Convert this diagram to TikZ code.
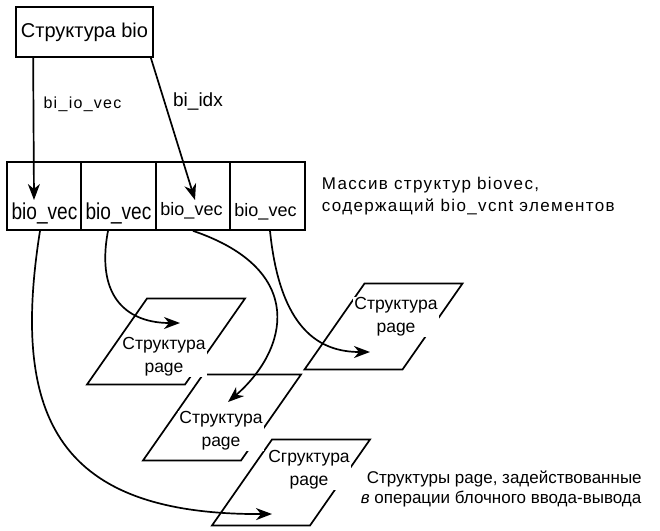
\documentclass[tikz,border=0pt]{standalone}
\usepackage{fontspec}
\setmainfont{Liberation Sans}
\newfontfamily\condfont[FakeStretch=0.83]{Liberation Sans}
\newfontfamily\spacedfont[LetterSpace=8]{Liberation Sans}
\usetikzlibrary{arrows.meta}
\begin{document}
\begin{tikzpicture}[x=1pt,y=-1pt,line width=1.7pt,
  arr/.style={-{Stealth[length=16pt,width=12pt,inset=5pt]}},
  box/.style={draw,rectangle,inner sep=0pt},
  cell/.style={draw,rectangle,minimum width=74.5pt,minimum height=68pt,inner sep=0pt},
  lbl/.style={inner sep=0pt},
  pglbl/.style={align=center,font=\fontsize{17.5}{23}\selectfont,fill=white,inner sep=1pt},
  pgram/.pic={\draw (-79,43) -- (19,43) -- (79,-43) -- (-19,-43) -- cycle;}
]
\useasboundingbox (0,0) rectangle (660,530);
% top box
\node[box,minimum width=137pt,minimum height=50pt,font=\fontsize{20}{24}\selectfont] (bio) at (84.5,32) {Структура bio};
% array cells
\node[cell] (c1) at (44,196) {};
\node[cell] (c2) at (118.5,196) {};
\node[cell] (c3) at (193,196) {};
\node[cell] (c4) at (267.5,196) {};
\node[lbl,font=\condfont\fontsize{23}{26}\selectfont] (c1t) at (44.5,213) {bio\_vec};
\node[lbl,font=\condfont\fontsize{23}{26}\selectfont] (c2t) at (118.5,213) {bio\_vec};
\node[lbl,font=\fontsize{18}{22}\selectfont] (c3t) at (191.5,211) {bio\_vec};
\node[lbl,font=\fontsize{18}{22}\selectfont] (c4t) at (265.5,212) {bio\_vec};
% arrows from bio
\coordinate (t1) at (34,200);
\coordinate (t2) at (195,200);
\draw[arr] ([xshift=18pt]bio.south west) -- (t1);
\draw[arr] ([xshift=-3pt]bio.south east) -- (t2);
\node[lbl,font=\spacedfont\fontsize{16}{18}\selectfont] (lio) at (82.5,104) {bi\_io\_vec};
\node[lbl,font=\fontsize{19}{22}\selectfont] (lidx) at (198,102) {bi\_idx};
% array description
\node[anchor=west,align=left,inner sep=0pt,font=\spacedfont\fontsize{17}{22}\selectfont] (arrtxt) at (321,196) {Массив структур biovec,\\содержащий bio\_vcnt элементов};
% parallelograms
\pic at (166,341.5) {pgram};
\pic at (222,417.5) {pgram};
\pic at (291,482.5) {pgram};
\pic at (383.5,326.5) {pgram};
% curves
\coordinate (e1) at (272,514);
\coordinate (e2) at (180,323);
\coordinate (e3) at (228,402);
\coordinate (e4) at (370,352);
\draw[arr] ([xshift=-4pt]c1.south) .. controls (10,420) and (60,515) .. (e1);
\draw[arr] ([xshift=-10.5pt]c2.south) .. controls (95,300) and (130,323) .. (e2);
\draw[arr] (c3.south) .. controls (308,270) and (288,350) .. (e3);
\draw[arr] ([xshift=2.5pt]c4.south) .. controls (280,330) and (320,352) .. (e4);
% page labels
\node[pglbl] (p1) at (164,357) {Структура\\page};
\node[pglbl] (p2) at (221,431) {Структура\\page};
\node[pglbl] (p3) at (309,470) {Сгруктура\\page};
\node[pglbl] (p4) at (396,317) {Структура\\page};
% bottom description
\node[anchor=west,inner sep=0pt,font=\fontsize{17}{20}\selectfont] (pt1) at (366,479) {Структуры page, задействованные};
\node[anchor=west,inner sep=0pt,font=\fontsize{17}{20}\selectfont] (pt2) at (360,499) {\textit{в} операции блочного ввода-вывода};
\end{tikzpicture}
\end{document}
